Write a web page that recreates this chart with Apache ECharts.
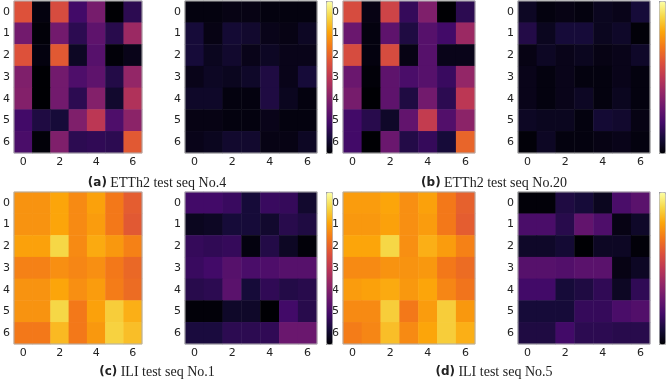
<!DOCTYPE html>
<html>
<head>
<meta charset="utf-8">
<script src="https://cdn.jsdelivr.net/npm/echarts@6/dist/echarts.min.js"></script>
<style>
  html, body { margin: 0; padding: 0; background: #fff; }
  #chart { width: 668px; height: 380px; }
</style>
</head>
<body>
<div id="chart"></div>
<script>
// tick labels for both axes of every 7x7 map
const ticks = ['0', '1', '2', '3', '4', '5', '6']

// (a) ETTh2 test seq No.4
const ettA_left = [
  [0.60, 0.02, 0.58, 0.20, 0.33, 0.00, 0.15],
  [0.32, 0.01, 0.32, 0.15, 0.27, 0.14, 0.42],
  [0.60, 0.02, 0.62, 0.06, 0.25, 0.01, 0.04],
  [0.35, 0.00, 0.32, 0.23, 0.27, 0.13, 0.40],
  [0.36, 0.00, 0.32, 0.15, 0.36, 0.08, 0.47],
  [0.20, 0.12, 0.10, 0.35, 0.50, 0.23, 0.38],
  [0.22, 0.01, 0.35, 0.15, 0.16, 0.15, 0.62]
]
const ettA_right = [
  [0.02, 0.02, 0.03, 0.03, 0.02, 0.02, 0.02],
  [0.10, 0.03, 0.09, 0.08, 0.04, 0.03, 0.06],
  [0.10, 0.05, 0.08, 0.04, 0.06, 0.04, 0.04],
  [0.04, 0.06, 0.05, 0.07, 0.12, 0.04, 0.10],
  [0.07, 0.07, 0.02, 0.02, 0.12, 0.05, 0.02],
  [0.03, 0.03, 0.02, 0.02, 0.04, 0.02, 0.02],
  [0.04, 0.05, 0.08, 0.08, 0.03, 0.03, 0.06]
]

// (b) ETTh2 test seq No.20
const ettB_left = [
  [0.58, 0.03, 0.55, 0.17, 0.35, 0.00, 0.15],
  [0.30, 0.02, 0.27, 0.12, 0.25, 0.20, 0.42],
  [0.58, 0.02, 0.58, 0.03, 0.25, 0.04, 0.04],
  [0.30, 0.01, 0.27, 0.22, 0.25, 0.18, 0.40],
  [0.33, 0.00, 0.27, 0.12, 0.32, 0.15, 0.50],
  [0.20, 0.14, 0.07, 0.28, 0.52, 0.24, 0.38],
  [0.20, 0.00, 0.30, 0.13, 0.17, 0.10, 0.65]
]
const ettB_right = [
  [0.06, 0.02, 0.03, 0.02, 0.05, 0.04, 0.10],
  [0.13, 0.05, 0.10, 0.10, 0.05, 0.07, 0.01],
  [0.03, 0.06, 0.04, 0.05, 0.03, 0.04, 0.07],
  [0.04, 0.02, 0.04, 0.02, 0.02, 0.04, 0.02],
  [0.04, 0.02, 0.04, 0.06, 0.02, 0.05, 0.02],
  [0.06, 0.05, 0.05, 0.02, 0.09, 0.08, 0.03],
  [0.01, 0.06, 0.02, 0.02, 0.03, 0.04, 0.02]
]

// (c) ILI test seq No.1
const iliC_left = [
  [0.76, 0.76, 0.80, 0.74, 0.79, 0.70, 0.63],
  [0.76, 0.76, 0.80, 0.74, 0.78, 0.70, 0.62],
  [0.79, 0.79, 0.90, 0.74, 0.81, 0.77, 0.72],
  [0.72, 0.72, 0.75, 0.73, 0.75, 0.70, 0.66],
  [0.76, 0.76, 0.80, 0.75, 0.78, 0.71, 0.67],
  [0.76, 0.76, 0.90, 0.70, 0.79, 0.88, 0.82],
  [0.70, 0.70, 0.84, 0.70, 0.77, 0.89, 0.85]
]
const iliC_right = [
  [0.20, 0.20, 0.18, 0.10, 0.18, 0.17, 0.08],
  [0.05, 0.06, 0.10, 0.10, 0.08, 0.14, 0.12],
  [0.17, 0.16, 0.17, 0.02, 0.13, 0.06, 0.01],
  [0.18, 0.20, 0.25, 0.22, 0.23, 0.25, 0.25],
  [0.14, 0.15, 0.26, 0.10, 0.16, 0.13, 0.14],
  [0.01, 0.01, 0.07, 0.07, 0.00, 0.20, 0.14],
  [0.11, 0.11, 0.15, 0.15, 0.16, 0.30, 0.30]
]

// (d) ILI test seq No.5
const iliD_left = [
  [0.78, 0.78, 0.80, 0.75, 0.79, 0.70, 0.64],
  [0.77, 0.77, 0.79, 0.75, 0.78, 0.70, 0.63],
  [0.80, 0.80, 0.90, 0.75, 0.82, 0.78, 0.72],
  [0.74, 0.74, 0.76, 0.76, 0.77, 0.70, 0.67],
  [0.78, 0.79, 0.81, 0.77, 0.80, 0.73, 0.69],
  [0.74, 0.74, 0.88, 0.70, 0.78, 0.88, 0.77],
  [0.71, 0.73, 0.85, 0.74, 0.80, 0.88, 0.82]
]
const iliD_right = [
  [0.01, 0.01, 0.12, 0.10, 0.05, 0.22, 0.26],
  [0.22, 0.22, 0.14, 0.28, 0.23, 0.03, 0.07],
  [0.07, 0.07, 0.09, 0.00, 0.06, 0.06, 0.01],
  [0.25, 0.25, 0.24, 0.26, 0.26, 0.03, 0.06],
  [0.20, 0.20, 0.10, 0.12, 0.16, 0.06, 0.16],
  [0.10, 0.10, 0.10, 0.17, 0.17, 0.22, 0.24],
  [0.12, 0.12, 0.20, 0.15, 0.15, 0.14, 0.14]
]

const panels = [ettA_left, ettA_right, ettB_left, ettB_right, iliC_left, iliC_right, iliD_left, iliD_right]
const captions = [
  ['(a)', 'ETTh2 test seq No.4'],
  ['(b)', 'ETTh2 test seq No.20'],
  ['(c)', 'ILI test seq No.1'],
  ['(d)', 'ILI test seq No.5']
]

const inferno = ['#000004', '#160b39', '#420a68', '#6a176e', '#932667', '#bc3754',
  '#dd513a', '#f37819', '#fca50a', '#f6d746', '#fcffa4']

// layout
const colLeft = [10, 185, 343, 518]
const colW = 132
const rowTop = [1, 192]
const rowH = 152
const cbarLeft = [326, 659]
const cbarW = 6
const capX = [157, 494]
const capY = [183, 372]

const myChart = echarts.init(document.getElementById('chart'))

const grid = [], xAxis = [], yAxis = [], series = [], visualMap = [], graphic = []

panels.forEach((m, i) => {
  const r = Math.floor(i / 4)
  const c = i % 4
  grid.push({
    left: colLeft[c], top: rowTop[r], width: colW, height: rowH,
    show: true, borderColor: '#b0b0b0', borderWidth: 1, backgroundColor: 'transparent', z: 10
  })
  xAxis.push({
    type: 'category', gridIndex: i, data: ticks, position: 'bottom',
    axisLine: { show: false },
    axisTick: { alignWithLabel: true, interval: 1, length: 3, lineStyle: { color: '#333' } },
    axisLabel: { interval: 1, margin: 4, fontSize: 11, color: '#222', fontFamily: 'DejaVu Sans' },
    splitLine: { show: false }
  })
  yAxis.push({
    type: 'category', gridIndex: i, data: ticks, inverse: true,
    axisLine: { show: false },
    axisTick: { alignWithLabel: true, length: 3, lineStyle: { color: '#333' } },
    axisLabel: { margin: 4, fontSize: 11, color: '#222', fontFamily: 'DejaVu Sans' },
    splitLine: { show: false }
  })
  const data = []
  m.forEach((row, y) => row.forEach((v, x) => data.push([x, y, v])))
  series.push({
    type: 'heatmap', xAxisIndex: i, yAxisIndex: i, data: data,
    itemStyle: { borderWidth: 0 }, emphasis: { disabled: true }
  })
})

// one colourbar per pair, with ticks on its right edge
for (let k = 0; k < 4; k++) {
  const r = Math.floor(k / 2)
  const c = k % 2
  visualMap.push({
    type: 'continuous', seriesIndex: [2 * k, 2 * k + 1], min: 0, max: 1,
    inRange: { color: inferno }, calculable: false, realtime: false,
    orient: 'vertical', left: cbarLeft[c], top: rowTop[r],
    itemWidth: cbarW, itemHeight: rowH, padding: 0,
    borderColor: '#b0b0b0', borderWidth: 1, text: null, hoverLink: false
  })
  const gi = grid.length
  grid.push({ left: cbarLeft[c], top: rowTop[r], width: cbarW, height: rowH })
  xAxis.push({ type: 'value', gridIndex: gi, show: false })
  yAxis.push({
    type: 'value', gridIndex: gi, position: 'right', min: 0, max: 1, interval: 0.2,
    axisLine: { show: false }, axisLabel: { show: false }, splitLine: { show: false },
    axisTick: { show: true, length: 2, lineStyle: { color: '#555' } }
  })
}

captions.forEach((cap, k) => {
  graphic.push({
    type: 'text',
    x: capX[k % 2], y: capY[Math.floor(k / 2)],
    style: {
      text: '{b|' + cap[0] + '} {n|' + cap[1] + '}',
      textAlign: 'center', textVerticalAlign: 'middle',
      rich: {
        b: { fontFamily: 'DejaVu Sans', fontWeight: 'bold', fontSize: 12, fill: '#222' },
        n: { fontFamily: 'Liberation Serif', fontSize: 14, fill: '#222' }
      }
    }
  })
})

myChart.setOption({
  animation: false,
  grid, xAxis, yAxis, series, visualMap, graphic
})
</script>
</body>
</html>
